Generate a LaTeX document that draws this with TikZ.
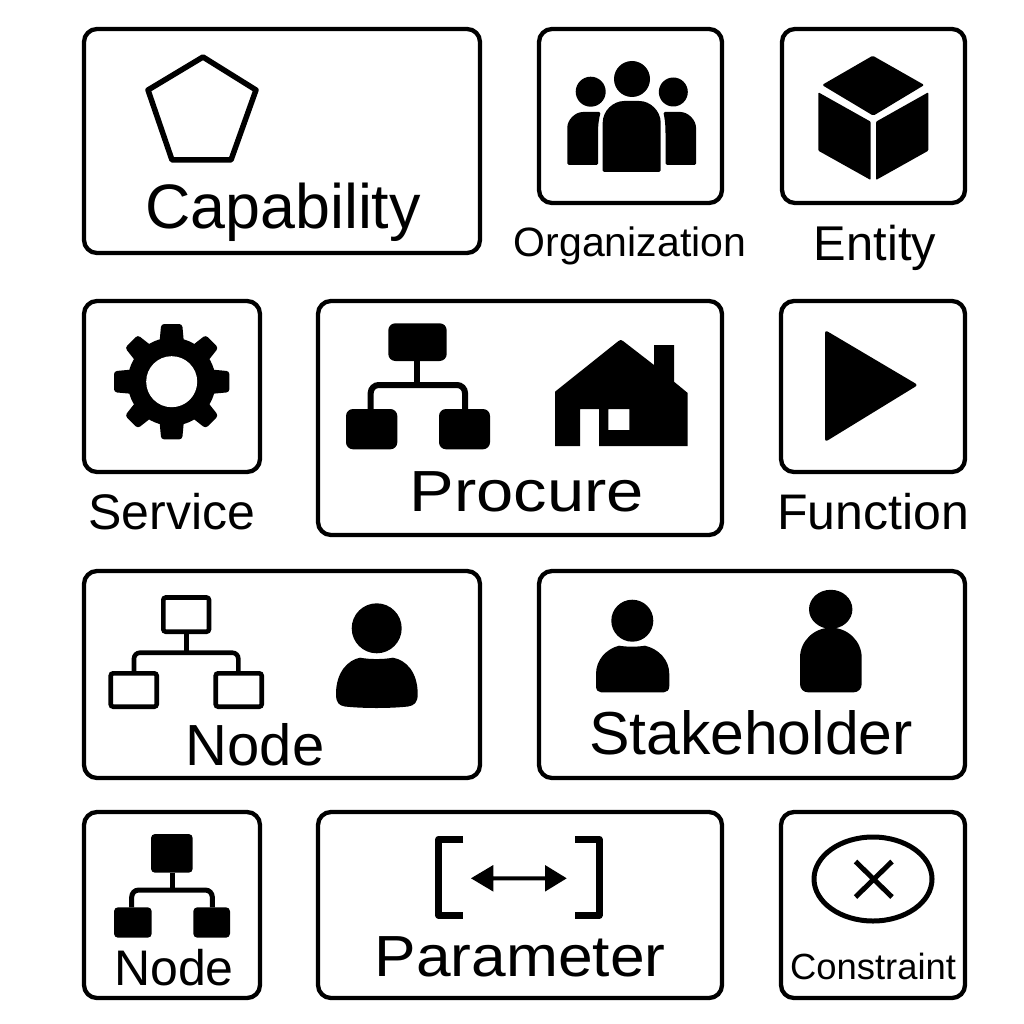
\documentclass[tikz,border=0pt]{standalone}
\usepackage{graphicx}
\usepackage{fontspec}
\setmainfont{Liberation Sans}
\tikzset{
  x=1pt,y=-1pt,
  card/.style={draw=black,line width=4.3pt,rounded corners=13pt,fill=white,inner sep=0pt,outer sep=0pt},
  lab/.style={anchor=base,inner sep=0pt,outer sep=0pt,text=black},
  line ink/.style={draw=black,line width=4.6pt,fill=none},
}
\newcommand{\fs}[1]{\fontsize{#1pt}{#1pt}\selectfont}
% name, left, top, right, bottom
\newcommand{\cardbox}[5]{\node[card,minimum width=#4pt-#2pt,minimum height=#5pt-#3pt] (#1) at ({(#2+#4)/2},{(#3+#5)/2}) {};}
\begin{document}
\begin{tikzpicture}
\useasboundingbox (0,0) rectangle (1024,1024);
\fill[white] (0,0) rectangle (1024,1024);
\cardbox{capabilitybox}{84}{29}{480}{253}
\cardbox{organizationbox}{539}{29}{722}{203}
\cardbox{entitybox}{782}{29}{965}{203}
\cardbox{servicebox}{84}{301}{260}{472}
\cardbox{procurebox}{318}{301}{722}{535}
\cardbox{functionbox}{781}{301}{965}{472}
\cardbox{nodeboxa}{84}{571}{480}{778}
\cardbox{stakeholderbox}{539}{571}{965}{778}
\cardbox{nodeboxb}{84}{812}{260}{998}
\cardbox{parameterbox}{318}{812}{722}{998}
\cardbox{constraintbox}{781}{812}{965}{998}

\node[lab] (t1) at (283,229) {\fs{62.8}Capability};
\node[lab] (t2) at (630,256) {\fs{41}Organization};
\node[lab] (t3) at (875,260) {\fs{48.8}Entity};
\node[lab] (t4) at (172,529) {\fs{50}Service};
\node[lab] (t5) at (527,511.5) {\scalebox{1.153}[1]{\fs{58}Procure}};
\node[lab] (t6) at (873,529) {\fs{50}Function};
\node[lab] (t7) at (255,765) {\fs{58}Node};
\node[lab] (t8) at (751,754) {\fs{60.7}Stakeholder};
\node[lab] (t9) at (174,985) {\fs{50}Node};
\node[lab] (t10) at (520,976.5) {\scalebox{1.074}[1]{\fs{58}Parameter}};
\node[lab] (t11) at (873,979) {\fs{36.4}Constraint};

% pentagon
\draw[line width=5.5pt,line join=round] (203,57) -- (256,90) -- (231,160) -- (172,160) -- (148,90) -- cycle;

% organization people
\fill (632,79) circle (18);
\fill (590.7,91.7) circle (15);
\fill (673.3,92) circle (14.5);
\fill[rounded corners=1.5pt] (602.7,172) -- (602.7,124) .. controls (602.7,111) and (613,101) .. (625.7,101) -- (637.7,101) .. controls (650.4,101) and (660.7,111) .. (660.7,124) -- (660.7,172) -- cycle;
\fill[rounded corners=1.5pt] (567.3,165) -- (567.3,129) .. controls (567.3,120) and (575,112) .. (584.3,112) -- (600.7,112) .. controls (598,122) and (598,130) .. (598,136) -- (598,165) -- cycle;
\fill[rounded corners=1.5pt] (696,165) -- (696,129) .. controls (696,120) and (688,112) .. (679,112) -- (663.3,112) .. controls (665.5,122) and (665.5,130) .. (665.5,136) -- (665.5,165) -- cycle;

% cube
\fill[rounded corners=1.5pt] (872.7,55.7) -- (924.3,85) -- (873.3,115.7) -- (822,85) -- cycle;
\fill[rounded corners=1pt] (818.3,92.3) -- (870.7,121.7) -- (870.7,180) -- (818.3,150.7) -- cycle;
\fill[rounded corners=1pt] (928.3,92.3) -- (876,121.7) -- (876,180) -- (928.3,150.7) -- cycle;

% gear
\begin{scope}[shift={(171.7,381.7)}]
  \fill (0,0) circle (44);
  \foreach \a in {0,90,180,270} {
    \fill[rotate=\a,rounded corners=3pt] (-12.5,-36) -- (-10.5,-57.7) -- (10.5,-57.7) -- (12.5,-36) -- cycle;
  }
  \foreach \a in {45,135,225,315} {
    \fill[rotate=\a,rounded corners=3pt] (-11.5,-36) -- (-9,-57) -- (9,-57) -- (11.5,-36) -- cycle;
  }
  \fill[white] (0,0) circle (25.5);
\end{scope}

% procure organigram
\fill[rounded corners=7pt] (388.3,323.3) rectangle (446.7,361);
\fill[rounded corners=7pt] (346,409) rectangle (397.3,449.3);
\fill[rounded corners=7pt] (439,409) rectangle (490,449.3);
\draw[line width=6pt] (417.3,361) -- (417.3,385);
\draw[line width=6pt,rounded corners=8pt] (370.7,409) -- (370.7,385) -- (465,385) -- (465,409);

% house
\fill[even odd rule] (555,446) -- (555,391.7) -- (618.5,341) -- (620.7,340) -- (623,341) -- (654,365) -- (654,345) -- (674,345) -- (674,381.7) -- (687.7,393) -- (687.7,446) -- (599,446) -- (599,409) -- (580,409) -- (580,446) -- cycle
  (608.3,409) rectangle (629.3,430);

% play
\fill[rounded corners=3pt] (825,330) -- (918,385) -- (825,442) -- cycle;

% node organigram (outlined)
\begin{scope}[line ink,rounded corners=2.5pt]
  \draw (163.3,597.5) rectangle (209,631.7);
  \draw (110.7,673.3) rectangle (156.7,706.7);
  \draw (215.7,673.3) rectangle (261.7,706.7);
\end{scope}
\draw[line ink] (186.7,631.7) -- (186.7,652.7);
\draw[line ink,rounded corners=6pt] (134,673.3) -- (134,652.7) -- (238.3,652.7) -- (238.3,673.3);

% person in node box
\fill (376.7,628.3) circle (25);
\fill (336,694) .. controls (336,672) and (348,660) .. (360,657.7) .. controls (370,659.5) and (383,659.5) .. (393,657.7) .. controls (406,660) and (417.7,672) .. (417.7,694) .. controls (417.7,703) and (414,705.5) .. (408,706.5) .. controls (390,708.5) and (363,708.5) .. (345,706.5) .. controls (339,705.5) and (336,703) .. (336,694) -- cycle;

% stakeholders
\fill (632.3,620.7) circle (21);
\fill (596,686) -- (596,674) .. controls (596,660) and (606,649) .. (619,645.7) .. controls (627,647) and (637,647) .. (645,645.7) .. controls (659,649) and (669.3,660) .. (669.3,674) -- (669.3,686) .. controls (669.3,690) and (667,692.3) .. (664,692.3) -- (601,692.3) .. controls (598,692.3) and (596,690) .. (596,686) -- cycle;
\fill (830.7,609.3) ellipse [x radius=21.7,y radius=19.5];
\fill (800,684) -- (800,657.7) .. controls (800,641) and (814,627.7) .. (830.85,627.7) .. controls (847.7,627.7) and (861.7,641) .. (861.7,657.7) -- (861.7,684) .. controls (861.7,689) and (858,692.3) .. (853.7,692.3) -- (808,692.3) .. controls (803.7,692.3) and (800,689) .. (800,684) -- cycle;

% node organigram (small)
\fill[rounded corners=4pt] (151,834) rectangle (192.7,872.7);
\fill[rounded corners=4pt] (114,907.3) rectangle (151.7,937.7);
\fill[rounded corners=4pt] (193.3,907.3) rectangle (230,937.7);
\draw[line width=5pt] (172.3,872.7) -- (172.3,890);
\draw[line width=5pt,rounded corners=7pt] (131.7,907.3) -- (131.7,890) -- (212.3,890) -- (212.3,907.3);

% parameter brackets and arrow
\draw[line width=7pt,line join=round] (463.3,839.3) -- (438.7,839.3) -- (438.7,915.3) -- (463.3,915.3);
\draw[line width=7pt,line join=round] (575,839.3) -- (599,839.3) -- (599,915.3) -- (575,915.3);
\fill (471,878.3) -- (493.3,865) -- (493.3,876.3) -- (545,876.3) -- (545,865) -- (566.7,878.3) -- (545,891.6) -- (545,880.3) -- (493.3,880.3) -- (493.3,891.6) -- cycle;

% constraint
\draw[line width=5pt] (873,879) ellipse [x radius=59,y radius=42];
\draw[line width=5pt] (855.5,861.5) -- (892,897) (892,861.5) -- (855.5,897);
\end{tikzpicture}
\end{document}
